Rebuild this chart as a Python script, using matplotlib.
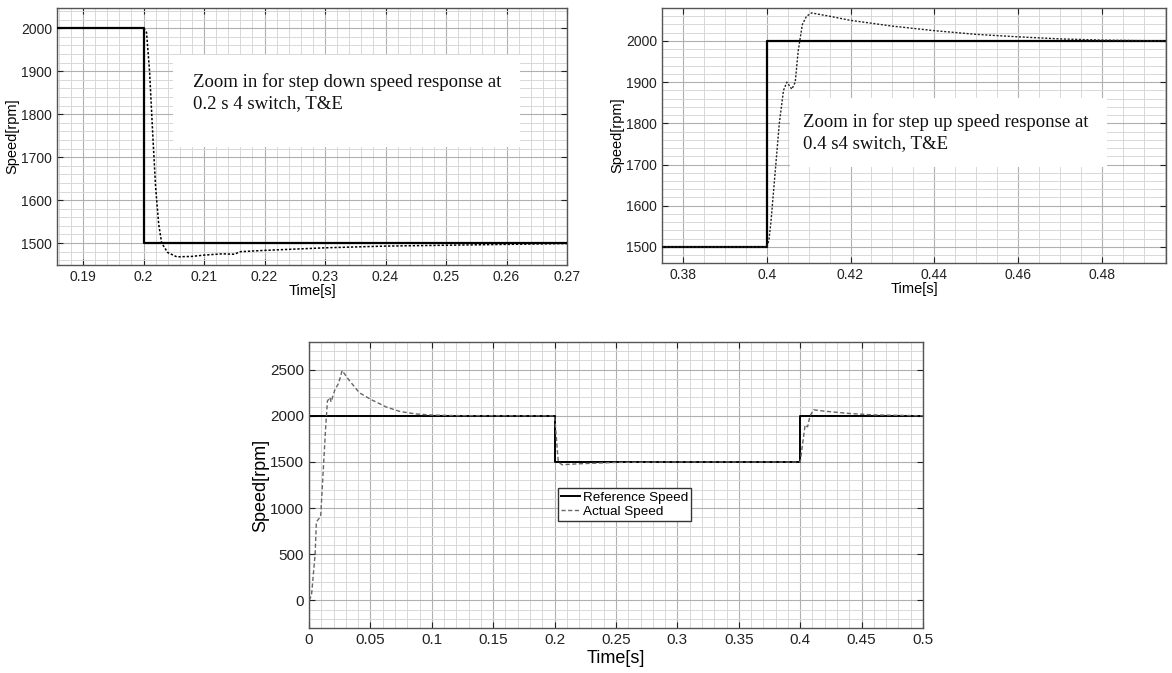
import numpy as np
import matplotlib
matplotlib.use("Agg")
from matplotlib import pyplot as plt
from matplotlib.ticker import MultipleLocator
from matplotlib.patches import Rectangle

# %%
# reference step speeds (time [s], speed [rpm])
ref_down_t = [0.1857, 0.2, 0.2, 0.27]
ref_down_v = [2000, 2000, 1500, 1500]

ref_up_t = [0.375, 0.4, 0.4, 0.4953]
ref_up_v = [1500, 1500, 2000, 2000]

ref_full_t = [0.0, 0.2, 0.2, 0.4, 0.4, 0.5]
ref_full_v = [2000, 2000, 1500, 1500, 2000, 2000]

# actual speed
act_down_t = [0.1857, 0.2, 0.2005, 0.201, 0.2015, 0.202, 0.2025, 0.203, 0.204,
              0.2055, 0.208, 0.21, 0.213, 0.215, 0.216, 0.22, 0.225, 0.23,
              0.235, 0.24, 0.245, 0.25, 0.255, 0.26, 0.265, 0.27]
act_down_v = [2000, 2000, 1990, 1900, 1760, 1630, 1545, 1500, 1478,
              1468, 1469, 1472, 1475, 1474, 1480, 1483, 1486, 1489,
              1491, 1493, 1494, 1495, 1496, 1497, 1498, 1499]

act_up_t = [0.375, 0.4, 0.4005, 0.401, 0.402, 0.403, 0.404, 0.4048, 0.4055,
            0.406, 0.4068, 0.4075, 0.4085, 0.4095, 0.4107, 0.415, 0.42,
            0.43, 0.44, 0.45, 0.46, 0.47, 0.48, 0.4953]
act_up_v = [1500, 1500, 1515, 1560, 1680, 1800, 1880, 1900, 1890,
            1883, 1900, 1975, 2040, 2060, 2068, 2060, 2050,
            2036, 2025, 2016, 2010, 2005, 2002, 2000]

act_full_t = [0.0, 0.002, 0.005, 0.006, 0.0095, 0.0135, 0.015, 0.017, 0.018,
              0.021, 0.024, 0.027, 0.033, 0.041, 0.05, 0.063, 0.074, 0.087,
              0.1, 0.12, 0.2, 0.2015, 0.203, 0.206, 0.22, 0.25, 0.3, 0.4,
              0.402, 0.404, 0.406, 0.408, 0.411, 0.42, 0.44, 0.46, 0.5]
act_full_v = [0, 50, 500, 850, 910, 1860, 2160, 2200, 2150,
              2280, 2350, 2490, 2380, 2250, 2180, 2095, 2047, 2020,
              2008, 2002, 2000, 1750, 1500, 1470, 1480, 1495, 1500, 1500,
              1700, 1900, 1880, 2000, 2065, 2050, 2025, 2010, 2000]

ref_label = "Reference Speed"
act_label = "Actual Speed"
note_down = "Zoom in for step down speed response at\n0.2 s 4 switch, T&E"
note_up = "Zoom in for step up speed response at\n0.4 s4 switch, T&E"

# %%
W, H = 1172, 673
fig = plt.figure(figsize=(W / 100, H / 100), dpi=100)
plt.rcParams["font.family"] = ["Liberation Sans", "DejaVu Sans"]


def px_axes(l, t, r, b):
    return fig.add_axes([l / W, 1 - b / H, (r - l) / W, (b - t) / H])


def matlab_style(ax, xmaj, xmin, ymaj, ymin, fs):
    ax.xaxis.set_major_locator(MultipleLocator(xmaj))
    ax.xaxis.set_minor_locator(MultipleLocator(xmin))
    ax.yaxis.set_major_locator(MultipleLocator(ymaj))
    ax.yaxis.set_minor_locator(MultipleLocator(ymin))
    ax.grid(which="major", color="#b0b0b0", lw=0.8)
    ax.grid(which="minor", color="#d8d8d8", lw=0.7)
    ax.set_axisbelow(True)
    ax.tick_params(which="major", direction="in", top=True, right=True,
                   length=4, labelsize=fs, colors="#222222")
    ax.tick_params(which="minor", length=0)
    for s in ax.spines.values():
        s.set_color("#555555")
        s.set_linewidth(1.0)


def note(ax, txt, box, xy):
    x0, y0, x1, y1 = box
    ax.add_patch(Rectangle((x0, y0), x1 - x0, y1 - y0, transform=ax.transAxes,
                           fc="white", ec="none", zorder=3))
    ax.text(xy[0], xy[1], txt, transform=ax.transAxes, va="top", ha="left",
            family=["Liberation Serif", "DejaVu Serif"], fontsize=13.5,
            linespacing=1.3, color="#111111", zorder=4)


# %% step down zoom
ax1 = px_axes(57, 8, 567, 265)
ax1.plot(ref_down_t, ref_down_v, color="black", lw=1.6, zorder=5)
ax1.plot(act_down_t, act_down_v, color="black", lw=1.1,
         linestyle=(0, (1.5, 1.2)), zorder=5)
ax1.set_xlim(0.1857, 0.27)
ax1.set_ylim(1449, 2047)
matlab_style(ax1, 0.01, 0.002, 100, 20, 10)
ax1.set_xticks([0.19, 0.2, 0.21, 0.22, 0.23, 0.24, 0.25, 0.26, 0.27])
ax1.set_xticklabels(["0.19", "0.2", "0.21", "0.22", "0.23", "0.24", "0.25", "0.26", "0.27"])
ax1.set_xlabel("Time[s]", fontsize=10.5, labelpad=0)
ax1.set_ylabel("Speed[rpm]", fontsize=10.5, labelpad=1)
note(ax1, note_down, (0.227, 0.459, 0.908, 0.817), (0.267, 0.745))

# %% step up zoom
ax2 = px_axes(662, 8, 1166, 263)
ax2.plot(ref_up_t, ref_up_v, color="black", lw=1.6, zorder=5)
ax2.plot(act_up_t, act_up_v, color="#222222", lw=1.0,
         linestyle=(0, (1.5, 1.2)), zorder=5)
ax2.set_xlim(0.375, 0.4953)
ax2.set_ylim(1461, 2080)
matlab_style(ax2, 0.02, 0.005, 100, 20, 10)
ax2.set_xticks([0.38, 0.4, 0.42, 0.44, 0.46, 0.48])
ax2.set_xticklabels(["0.38", "0.4", "0.42", "0.44", "0.46", "0.48"])
ax2.set_xlabel("Time[s]", fontsize=10.5, labelpad=0)
ax2.set_ylabel("Speed[rpm]", fontsize=10.5, labelpad=1)
note(ax2, note_up, (0.254, 0.376, 0.883, 0.647), (0.28, 0.588))

# %% full response
ax3 = px_axes(309, 342, 923, 628)
ax3.plot(ref_full_t, ref_full_v, color="black", lw=1.4, label=ref_label)
ax3.plot(act_full_t, act_full_v, color="#666666", lw=1.0,
         linestyle=(0, (3, 1.8)), label=act_label)
ax3.set_xlim(0, 0.5)
ax3.set_ylim(-300, 2800)
matlab_style(ax3, 0.05, 0.01, 500, 100, 11)
ax3.set_xticks(np.arange(0, 0.501, 0.05))
ax3.set_xticklabels(["0", "0.05", "0.1", "0.15", "0.2", "0.25", "0.3",
                     "0.35", "0.4", "0.45", "0.5"])
ax3.set_xlabel("Time[s]", fontsize=13, labelpad=2)
ax3.set_ylabel("Speed[rpm]", fontsize=13, labelpad=1)
leg = ax3.legend(loc="upper left", bbox_to_anchor=(0.405, 0.49), fontsize=9.7,
                 handlelength=1.4, handletextpad=0.2, borderpad=0.25,
                 labelspacing=0.15, fancybox=False, framealpha=1,
                 borderaxespad=0)
leg.get_frame().set_edgecolor("#333333")
leg.get_frame().set_linewidth(1.0)

fig.savefig("out.png", dpi=100)
